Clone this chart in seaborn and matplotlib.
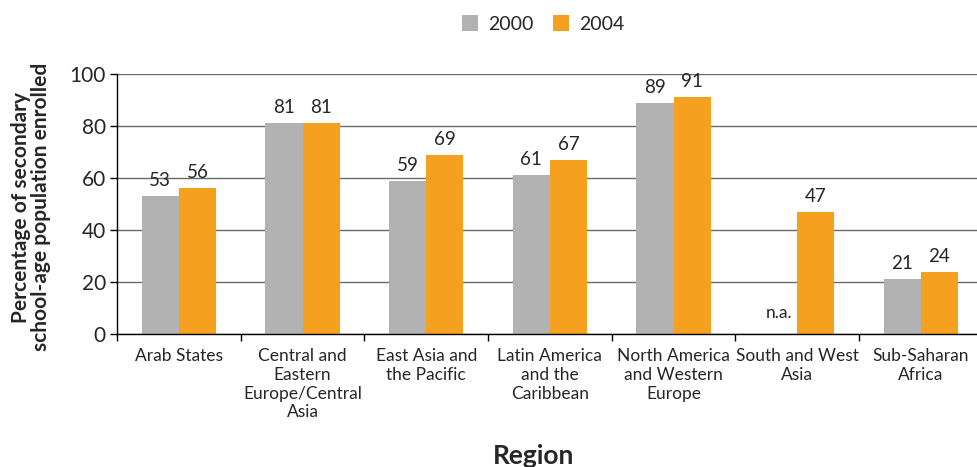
import numpy as np
import pandas as pd
import matplotlib
matplotlib.use("Agg")
import matplotlib.pyplot as plt
import seaborn as sns
from matplotlib.patches import Patch

regions = ["Arab States", "Central and\nEastern\nEurope/Central\nAsia", "East Asia and\nthe Pacific",
           "Latin America\nand the\nCaribbean", "North America\nand Western\nEurope",
           "South and West\nAsia", "Sub-Saharan\nAfrica"]
years = ["2000", "2004"]
values_2000 = [53, 81, 59, 61, 89, np.nan, 21]
values_2004 = [56, 81, 69, 67, 91, 47, 24]
colors = ["#b2b2b2", "#f5a01e"]

sns.set_theme(style="white")
plt.rcParams["font.family"] = ["Lato", "DejaVu Sans"]

df = pd.DataFrame({
    "Region": regions * 2,
    "Year": [years[0]] * len(regions) + [years[1]] * len(regions),
    "Value": values_2000 + values_2004,
})

fig = plt.figure(figsize=(9.77, 4.67), dpi=100)
ax = fig.add_axes([0.1198, 0.2848, 0.886, 0.5567])
sns.barplot(data=df, x="Region", y="Value", hue="Year", palette=colors,
            width=0.6, gap=0, saturation=1, ax=ax, legend=False, zorder=3,
            linewidth=0)

ax.set_ylim(0, 100)
ax.set_xlim(-0.5, len(regions) - 0.5)
ax.set_yticks([0, 20, 40, 60, 80, 100])
ax.yaxis.grid(True, color="#6a6a6a", linewidth=1.0, zorder=0)
ax.set_axisbelow(True)
for s in ["top", "right"]:
    ax.spines[s].set_visible(False)
for s in ["left", "bottom"]:
    ax.spines[s].set_color("black")
    ax.spines[s].set_linewidth(1.0)
    ax.spines[s].set_zorder(4)

ax.set_xticks(range(len(regions)))
ax.set_xticklabels(regions, fontsize=12.5, linespacing=1.22)
ax.set_xticks(np.arange(-0.5, len(regions), 1.0), minor=True)
ax.tick_params(axis="x", which="major", length=0, pad=10)
ax.tick_params(axis="x", which="minor", length=5, width=1, color="black", direction="out", bottom=True)
ax.tick_params(axis="y", length=5, width=1, color="black", direction="out", left=True, labelsize=15, pad=3)

ax.set_xlabel("Region", fontsize=19, fontweight="bold", va="center")
ax.xaxis.set_label_coords((534 - 117) / 866, (334 - 456) / 260)
ax.set_ylabel("Percentage of secondary\nschool-age population enrolled", fontsize=15,
              fontweight="bold", linespacing=1.0, va="center")
ax.yaxis.set_label_coords((31 - 117) / 866, 0.5 - 3 / 260)

offsets = [-0.15, 0.15]
for off, vals in zip(offsets, [values_2000, values_2004]):
    for i, v in enumerate(vals):
        x = i + off
        if np.isnan(v):
            ax.text(x, 8, "n.a.", ha="center", va="center", fontsize=12.5, zorder=5)
        else:
            ax.annotate(f"{int(v)}", (x, v), xytext=(0, 5), textcoords="offset points",
                        ha="center", va="bottom", fontsize=13.5, zorder=5)

handles = [Patch(facecolor=c, edgecolor="none") for c in colors]
fig.legend(handles, years, loc="center", bbox_to_anchor=(543 / 977, 1 - 24 / 467), ncol=2,
           frameon=False, fontsize=14, handlelength=0.85, handleheight=0.85,
           handletextpad=0.5, columnspacing=1.0)

fig.savefig("out.png", dpi=100)
